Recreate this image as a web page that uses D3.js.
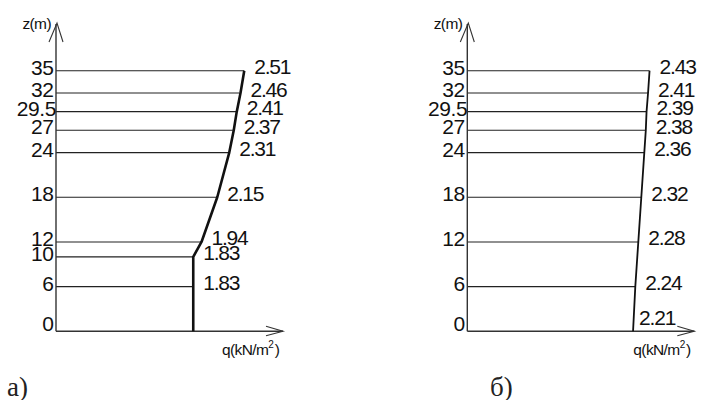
<!DOCTYPE html>
<html>
<head>
<meta charset="utf-8">
<script src="https://cdn.jsdelivr.net/npm/d3@7"></script>
<style>
  html, body { margin: 0; padding: 0; background: #fff; }
  svg { display: block; }
  .num { font-family: "Liberation Sans", Arial, sans-serif; font-size: 21px; fill: #111; }
  .val { letter-spacing: -1.2px; }
  .tk { letter-spacing: -0.4px; }
  .ax { font-family: "Liberation Sans", Arial, sans-serif; font-size: 15.5px; letter-spacing: -0.6px; fill: #111; }
  .cap { font-family: "Liberation Serif", "Times New Roman", serif; font-size: 27px; fill: #222; }
</style>
</head>
<body>
<script>
// Wind pressure profiles q(z) along the height, two cases
const heightsA = [0, 6, 10, 12, 18, 24, 27, 29.5, 32, 35];
const pressureA = [1.83, 1.83, 1.83, 1.94, 2.15, 2.31, 2.37, 2.41, 2.46, 2.51];
const labelsA = ["", "1.83", "1.83", "1.94", "2.15", "2.31", "2.37", "2.41", "2.46", "2.51"];
const ticksA = ["0", "6", "10", "12", "18", "24", "27", "29.5", "32", "35"];

const heightsB = [0, 6, 12, 18, 24, 27, 29.5, 32, 35];
const pressureB = [2.21, 2.24, 2.28, 2.32, 2.36, 2.38, 2.39, 2.41, 2.43];
const labelsB = ["2.21", "2.24", "2.28", "2.32", "2.36", "2.38", "2.39", "2.41", "2.43"];
const ticksB = ["0", "6", "12", "18", "24", "27", "29.5", "32", "35"];

const W = 704, H = 400;
const svg = d3.select("body").append("svg").attr("width", W).attr("height", H);

const y = d3.scaleLinear().domain([0, 35]).range([331.3, 70.7]);

function panel(x0, heights, pressure, labels, ticks, profileWidth, capText, capX) {
  const x = d3.scaleLinear().domain([0, 3]).range([x0, x0 + 225]);
  const g = svg.append("g");
  const rows = heights.map((z, i) => ({ z, q: pressure[i], label: labels[i], tick: ticks[i] }));

  // level lines from the axis to the profile
  g.selectAll("line.level").data(rows.filter(d => d.z > 0)).join("line")
    .attr("x1", x(0)).attr("x2", d => x(d.q))
    .attr("y1", d => y(d.z)).attr("y2", d => y(d.z))
    .attr("stroke", "#222").attr("stroke-width", 1.1);

  // vertical axis with open arrow head
  const top = 23;
  g.append("line").attr("x1", x(0)).attr("x2", x(0)).attr("y1", y(0)).attr("y2", top + 1)
    .attr("stroke", "#333").attr("stroke-width", 1.4);
  g.append("path")
    .attr("d", `M${x(0) - 7},${top + 19} L${x(0) + 1},${top} L${x(0) + 7},${top + 19}`)
    .attr("fill", "none").attr("stroke", "#333").attr("stroke-width", 1.1);

  // horizontal axis with open arrow head
  const tip = x(0) + 227;
  g.append("line").attr("x1", x(0)).attr("x2", tip).attr("y1", y(0)).attr("y2", y(0))
    .attr("stroke", "#333").attr("stroke-width", 1.4);
  g.append("path")
    .attr("d", `M${tip - 17},${y(0) - 5} L${tip},${y(0)} L${tip - 17},${y(0) + 4.5}`)
    .attr("fill", "none").attr("stroke", "#333").attr("stroke-width", 1.1);

  // pressure profile
  const line = d3.line().x(d => x(d.q)).y(d => y(d.z));
  g.append("path").datum(rows).attr("d", line)
    .attr("fill", "none").attr("stroke", "#111").attr("stroke-width", profileWidth)
    .attr("stroke-linejoin", "round");

  // height tick labels
  g.selectAll("text.tick").data(rows).join("text")
    .attr("class", "num tk")
    .attr("text-anchor", "end")
    .attr("x", d => x(0) - (d.tick === "29.5" ? 0 : 2.5))
    .attr("y", d => y(d.z) + (d.z === 0 ? 0 : 4))
    .text(d => d.tick);

  // pressure value labels
  g.selectAll("text.value").data(rows.filter(d => d.label)).join("text")
    .attr("class", "num val")
    .attr("x", d => x(d.q) + (d.z === 0 ? 6 : 10))
    .attr("y", d => y(d.z) + (d.z === 0 ? -6 : 3.5))
    .text(d => d.label);

  // axis titles
  g.append("text").attr("class", "ax").attr("text-anchor", "end")
    .attr("x", x(0) - 5).attr("y", 29).text("z(m)");
  const qt = g.append("text").attr("class", "ax").attr("x", tip - 61).attr("y", 355);
  qt.append("tspan").text("q(kN/m");
  qt.append("tspan").attr("font-size", "10px").attr("dy", -7).text("2");
  qt.append("tspan").attr("dy", 7).attr("dx", 1.5).text(")");

  svg.append("text").attr("class", "cap").attr("x", capX).attr("y", 396).text(capText);
}

panel(56, heightsA, pressureA, labelsA, ticksA, 2.6, "а)", 7);
panel(467.3, heightsB, pressureB, labelsB, ticksB, 1.8, "б)", 490);
</script>
</body>
</html>
